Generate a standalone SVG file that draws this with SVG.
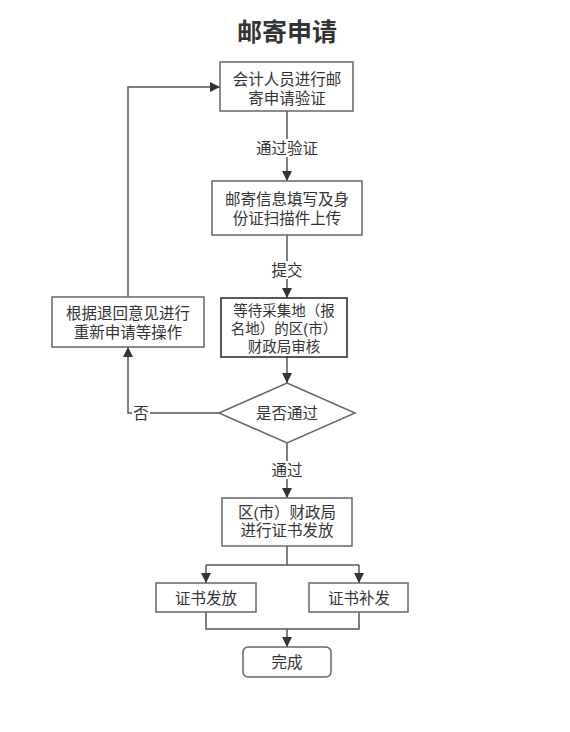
<svg xmlns="http://www.w3.org/2000/svg" width="570" height="732" viewBox="0 0 570 732">
<defs>
<marker id="arr" viewBox="0 0 10 10" refX="10" refY="5" markerWidth="10" markerHeight="10" markerUnits="userSpaceOnUse" orient="auto">
<path d="M0,0 L10,5 L0,10 Z" fill="#333"/>
</marker>
</defs>
<style>
.box{fill:#fff;stroke:#666;stroke-width:1.5}
.dark{stroke:#222}
.t{font-family:"Liberation Sans","Noto Sans CJK SC",sans-serif;font-size:15.5px;fill:#333;text-anchor:middle;dominant-baseline:central}
.s{font-size:14.5px}
.c{fill:none;stroke:#555;stroke-width:1.5}
.lbl{fill:#fff;stroke:none}
</style>
<rect width="570" height="732" fill="#fff"/>
<text x="287" y="32" class="t" style="font-size:25px;font-weight:bold;fill:#333">邮寄申请</text>
<g id="connectors">
<path class="c" d="M287,111 V181" marker-end="url(#arr)"/>
<rect class="lbl" x="253" y="139" width="68" height="18"/>
<text class="t" x="287" y="148">通过验证</text>
<path class="c" d="M287,235 V298" marker-end="url(#arr)"/>
<rect class="lbl" x="269" y="261" width="36" height="18"/>
<text class="t" x="287" y="270">提交</text>
<path class="c" d="M287,357 V383" marker-end="url(#arr)"/>
<path class="c" d="M219,413 H128 V347" marker-end="url(#arr)"/>
<rect class="lbl" x="132" y="404" width="18" height="18"/>
<text class="t" x="141" y="413">否</text>
<path class="c" d="M128,297 V87 H220" marker-end="url(#arr)"/>
<path class="c" d="M287,443 V498" marker-end="url(#arr)"/>
<rect class="lbl" x="269" y="461" width="36" height="18"/>
<text class="t" x="287" y="470">通过</text>
<path class="c" d="M287,546 V565"/>
<path class="c" d="M206,565 H359"/>
<path class="c" d="M206,565 V583" marker-end="url(#arr)"/>
<path class="c" d="M359,565 V583" marker-end="url(#arr)"/>
<path class="c" d="M206,612 V629 H359 V612"/>
<path class="c" d="M287,629 V647" marker-end="url(#arr)"/>
</g>
<g id="n1">
<rect class="box" x="220" y="62" width="133" height="49"/>
<text class="t" x="287" y="79">会计人员进行邮</text>
<text class="t" x="287" y="98">寄申请验证</text>
</g>
<g id="n2">
<rect class="box" x="212" y="181" width="150" height="54"/>
<text class="t" x="287" y="199">邮寄信息填写及身</text>
<text class="t" x="287" y="218">份证扫描件上传</text>
</g>
<g id="n3">
<rect class="box dark" x="221" y="298" width="126" height="59"/>
<text class="t s" x="284" y="311">等待采集地（报</text>
<text class="t s" x="284" y="329">名地）的区(市）</text>
<text class="t s" x="284" y="347">财政局审核</text>
</g>
<g id="n4">
<rect class="box" x="52" y="297" width="152" height="50"/>
<text class="t" x="128" y="313">根据退回意见进行</text>
<text class="t" x="128" y="332">重新申请等操作</text>
</g>
<g id="n5">
<path class="box" d="M287,383 L355,413 L287,443 L219,413 Z"/>
<text class="t" x="287" y="413">是否通过</text>
</g>
<g id="n6">
<rect class="box" x="222" y="498" width="130" height="48"/>
<text class="t" x="287" y="512">区(市）财政局</text>
<text class="t" x="287" y="530">进行证书发放</text>
</g>
<g id="n7">
<rect class="box" x="156" y="583" width="100" height="29"/>
<text class="t" x="206" y="598">证书发放</text>
</g>
<g id="n8">
<rect class="box" x="309" y="583" width="99" height="29"/>
<text class="t" x="359" y="598">证书补发</text>
</g>
<g id="n9">
<rect class="box" x="243" y="647" width="88" height="30" rx="5"/>
<text class="t" x="287" y="662">完成</text>
</g>
</svg>
